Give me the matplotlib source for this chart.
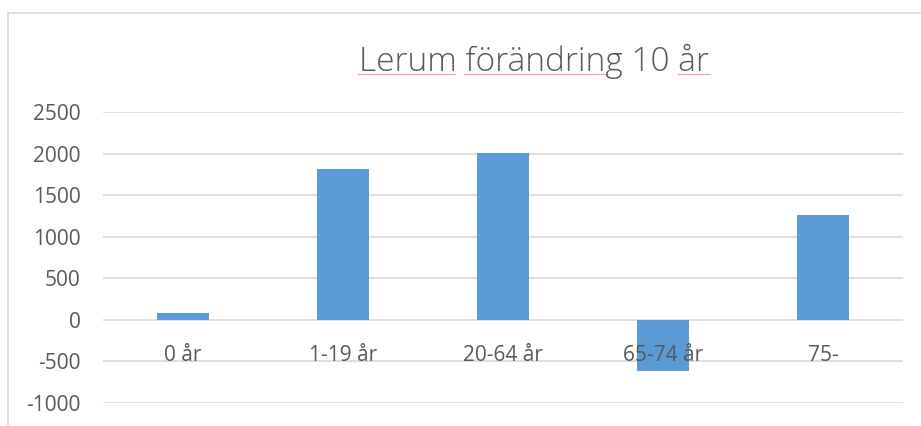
import matplotlib.pyplot as plt
from matplotlib.patches import Rectangle
from matplotlib.lines import Line2D

categories = ["0 år", "1-19 år", "20-64 år", "65-74 år", "75-"]
values = [80, 1815, 2008, -620, 1262]
yticks = [-1000, -500, 0, 500, 1000, 1500, 2000, 2500]
title = "Lerum förändring 10 år"

plt.rcParams["font.family"] = ["Open Sans", "DejaVu Sans"]
text_color = "#595959"
grid_color = "#d9d9d9"
bar_color = "#5b9bd5"

W, H = 921, 426
fig = plt.figure(figsize=(W / 100, H / 100), dpi=100)

# chart frame (only left and top edges are visible in the crop)
fig.patches.append(Rectangle((8 / W, -0.1), 1.2, 1 - 13 / H + 0.1, transform=fig.transFigure,
                             fill=False, edgecolor=grid_color, linewidth=1.2))

ax = fig.add_axes([103 / W, (H - 403) / H, 800 / W, (403 - 112) / H])
x = list(range(len(categories)))
for v in yticks:
    ax.axhline(v, color=grid_color, linewidth=1.2, zorder=0)
ax.bar(x, values, width=0.32, color=bar_color, zorder=1)
ax.set_axisbelow(False)
ax.set_xlim(-0.5, len(categories) - 0.5)
ax.set_ylim(-1000, 2500)
ax.set_yticks(yticks)
ax.set_yticklabels([str(v) for v in yticks])
ax.set_xticks(x)
ax.set_xticklabels(categories)
ax.spines["bottom"].set_position(("data", 0))
for s in ax.spines.values():
    s.set_visible(False)
ax.tick_params(axis="y", length=0, pad=16, labelsize=15, labelcolor=text_color)
ax.tick_params(axis="x", length=0, pad=18, labelsize=15, labelcolor=text_color)
ax.set_facecolor("none")

fig.text(534 / W, 1 - 61 / H, title, ha="center", va="center",
         fontsize=24, fontweight="light", color=text_color)

# spell-check underlines
for x0, x1 in [(358, 455), (464, 606), (678, 710)]:
    fig.lines.append(Line2D([x0 / W, x1 / W], [1 - 74 / H] * 2, transform=fig.transFigure,
                            color="#f0a0a0", linewidth=0.8))

fig.savefig("out.png", dpi=100)
